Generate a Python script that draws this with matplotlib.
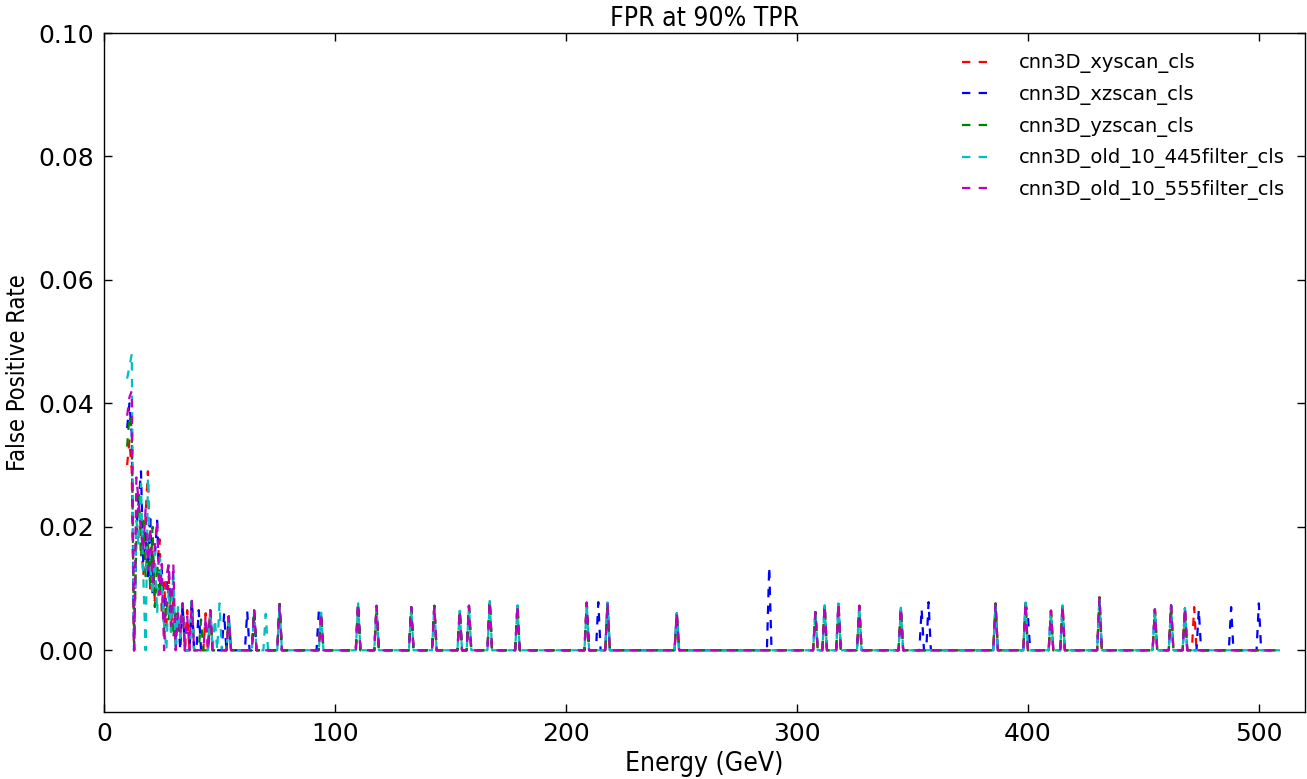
import matplotlib
matplotlib.use('Agg')
import matplotlib.pyplot as plt
import numpy as np

# energy bins (GeV)
energy = np.arange(10, 510)

labels = ['cnn3D_xyscan_cls', 'cnn3D_xzscan_cls', 'cnn3D_yzscan_cls',
          'cnn3D_old_10_445filter_cls', 'cnn3D_old_10_555filter_cls']
colors = ['r', 'b', 'g', 'c', 'm']

# low energy bins 10..33 GeV, FPR x 1e-3
low_red = [30, 34, 29, 0, 22, 26, 18, 12, 22, 29, 10, 16, 8, 13, 18, 6, 11, 4, 12, 3, 9, 0, 5, 2]
low_blue = [36, 40, 35, 0, 20, 24, 29, 14, 19, 12, 22, 9, 15, 21, 10, 13, 5, 10, 14, 4, 8, 2, 6, 0]
low_green = [33, 38, 36, 0, 18, 25, 15, 21, 12, 18, 10, 20, 7, 14, 9, 12, 3, 8, 5, 10, 2, 6, 3, 5]
low_cyan = [44, 46, 48, 0, 21, 17, 27, 12, 0, 28, 14, 9, 16, 6, 15, 11, 4, 0, 10, 3, 13, 0, 7, 2]
low_mag = [38, 41, 42, 0, 28, 24, 19, 16, 23, 13, 20, 11, 17, 21, 9, 14, 0, 12, 14, 4, 14, 0, 6, 3]

# isolated spikes shared by the models (energy, FPR x 1e-3)
shared_e = [34, 38, 46, 54, 65, 76, 94, 110, 118, 133, 143, 154, 158, 167, 179,
            209, 218, 248, 308, 312, 318, 327, 345, 386, 399, 410, 415, 431, 455, 462, 468]
shared_v = [7.6, 8.0, 6.5, 5.5, 6.5, 7.5, 6.1, 7.6, 7.2, 7.0, 7.2, 6.4, 7.2, 8.0, 7.3,
            7.7, 7.7, 6.0, 6.2, 7.3, 7.6, 7.2, 6.9, 7.6, 7.7, 6.4, 7.3, 8.6, 6.6, 7.3, 6.8]

# extra spikes per model
extra_red = [(36, 6.5), (44, 6.0), (472, 7.0)]
extra_blue = [(41, 6.5), (52, 6.0), (62, 6.3), (93, 6.3), (214, 7.8), (288, 13.5), (354, 6.7),
              (357, 7.8), (400, 5.5), (474, 6.6), (488, 7.0), (500, 7.6)]
extra_green = [(42, 5.0)]
extra_cyan = [(48, 5.0), (50, 7.6), (70, 5.9)]
extra_mag = [(36, 5.5), (44, 5.5)]

low_all = [low_red, low_blue, low_green, low_cyan, low_mag]
extra_all = [extra_red, extra_blue, extra_green, extra_cyan, extra_mag]

plt.rcParams['lines.scale_dashes'] = False

fig = plt.figure(figsize=(13.07, 7.79), dpi=100, facecolor='white')
ax = fig.add_axes([0.0796, 0.086, 0.9189, 0.8716])

for lab, col, low, extra in zip(labels, colors, low_all, extra_all):
    fpr = np.zeros(len(energy))
    fpr[:len(low)] = np.array(low) / 1000.0
    for e, v in list(zip(shared_e, shared_v)) + extra:
        fpr[e - energy[0]] = v / 1000.0
    ax.plot(energy, fpr, color=col, linestyle='--', dashes=(6, 6), linewidth=1.6, label=lab)

ax.set_xlim(0, 520)
ax.set_ylim(-0.01, 0.10)
ax.set_xticks([0, 100, 200, 300, 400, 500])
ax.set_yticks([0.0, 0.02, 0.04, 0.06, 0.08, 0.10])
ax.set_yticklabels(['0.00', '0.02', '0.04', '0.06', '0.08', '0.10'])
ax.tick_params(direction='in', length=6, width=1, top=True, right=True, labelsize=18, pad=7)
for sp in ax.spines.values():
    sp.set_linewidth(1)

ax.set_title('FPR at 90% TPR', fontsize=19, fontstretch='condensed', pad=5)
ax.set_xlabel('Energy (GeV)', fontsize=19, fontstretch='condensed', labelpad=4)
ax.set_ylabel('False Positive Rate', fontsize=17, fontstretch='condensed', labelpad=6)

ax.legend(loc='upper right', frameon=False, fontsize=14, handlelength=1.3,
          handletextpad=1.6, labelspacing=0.6, borderaxespad=0.65)

fig.savefig('out.png', dpi=100, facecolor='white')
